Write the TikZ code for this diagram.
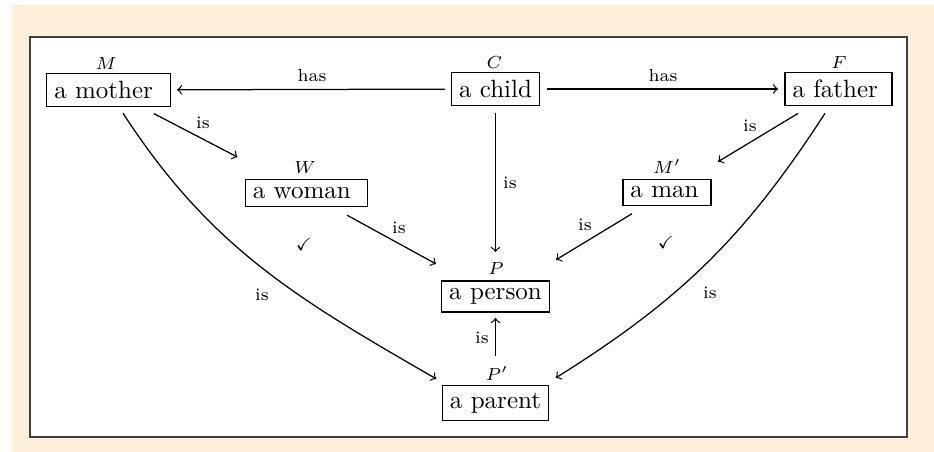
\documentclass[tikz,border=0pt]{standalone}
\usepackage{amssymb}
\definecolor{bgbeige}{RGB}{253,239,217}
\newdimen\pxu \pxu=0.4pt
\tikzset{
  box/.style={draw, line width=0.55pt, inner sep=3pt, font=\normalsize},
  vlab/.style={font=\scriptsize, inner sep=0pt, text height=4.8pt, text depth=0pt},
  elab/.style={font=\scriptsize, inner sep=0pt, text height=4.8pt, text depth=0pt},
  arr/.style={->, line width=0.5pt}
}
\begin{document}
\begin{tikzpicture}[x=0.4pt,y=0.4pt]
\useasboundingbox (0,0) rectangle (934,-452);
\fill[bgbeige] (12,-5) rectangle (934,-452);
\draw[fill=white, line width=0.6pt, draw=black!75] (30,-37) rectangle (907,-437);

% boxes
\node[box] (M)  at (108.5,-90)   {a mother\kern3.9pt};
\node[box] (C)  at (495.5,-89)   {a child};
\node[box] (F)  at (838.5,-89)   {a father\kern2.6pt};
\node[box] (W)  at (306.5,-193)  {a woman\kern3.8pt};
\node[box] (Mp) at (667,-192.5)  {a man\kern2pt};
\node[box] (P)  at (495.5,-296.5){a person};
\node[box] (Pp) at (495.5,-403)  {a parent};

% object labels
\node[vlab] (Ml)  at (106,-64)   {$M$};
\node[vlab] (Cl)  at (494.5,-63) {$C$};
\node[vlab] (Fl)  at (839,-63)   {$F$};
\node[vlab] (Wl)  at (305,-168)  {$W$};
\node[vlab] (Mpl) at (667,-168)  {$M'$};
\node[vlab] (Pl)  at (496,-269)  {$P$};
\node[vlab] (Ppl) at (497,-375)  {$P'$};

% straight arrows
\draw[arr, shorten <=50.5\pxu, shorten >=68.5\pxu] (C.center) -- (M.center);
\draw[arr, shorten <=51.5\pxu, shorten >=60.5\pxu] (C.center) -- (F.center);
\draw[arr, shorten <=24\pxu,   shorten >=44.5\pxu] (C.center) -- (P.center);
\draw[arr, shorten <=51.3\pxu, shorten >=77.8\pxu] (M.center) -- (W.center);
\draw[arr, shorten <=46.2\pxu, shorten >=67.8\pxu] (W.center) -- (P.center);
\draw[arr, shorten <=47.3\pxu, shorten >=59.6\pxu] (F.center) -- (Mp.center);
\draw[arr, shorten <=40.9\pxu, shorten >=70.8\pxu] (Mp.center) -- (P.center);
\draw[arr, shorten <=47\pxu,   shorten >=21.5\pxu] (Pp.center) -- (P.center);

% curved arrows
\draw[arr] ([shift={(14.5,-6.2)}]M.south) to[out=-57,in=150] ([shift={(-5.5,5.8)}]Pp.north west);
\draw[arr] ([shift={(-13.5,-7.2)}]F.south) to[out=-123,in=32] ([shift={(6.5,6.8)}]Pp.north east);

% edge labels
\node[elab] (hasL) at (312,-75.5) {has};
\node[elab] (hasR) at (663,-76)   {has};
\node[elab] (isCP) at (510,-183)  {is};
\node[elab] (isMW) at (203,-123)  {is};
\node[elab] (isWP) at (399,-228)  {is};
\node[elab] (isFM) at (750,-126)  {is};
\node[elab] (isMP) at (585,-225)  {is};
\node[elab] (isPP) at (482,-338)  {is};
\node[elab] (isML) at (262,-295)  {is};
\node[elab] (isFR) at (710,-293)  {is};

% check marks
\node[elab] (ck1) at (304,-245) {$\checkmark$};
\node[elab] (ck2) at (666,-243) {$\checkmark$};
\end{tikzpicture}
\end{document}
